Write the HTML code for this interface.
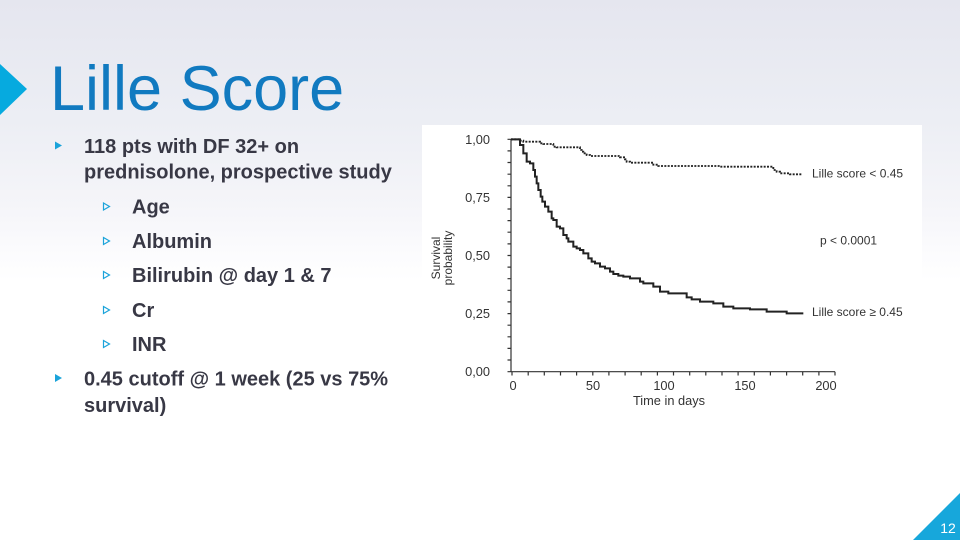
<!DOCTYPE html>
<html><head><meta charset="utf-8"><style>
html,body{margin:0;padding:0;}
body{width:960px;height:540px;overflow:hidden;background:linear-gradient(180deg,#e5e6ef 0%,#eceef4 22%,#f5f5f9 38%,#fbfbfd 46%,#ffffff 52%,#ffffff 100%);}
svg{display:block;}
</style></head><body>
<svg width="960" height="540" viewBox="0 0 960 540" xmlns="http://www.w3.org/2000/svg">
<!-- corner shapes -->
<polygon points="0,64 27,89 0,115" fill="#06aadf"/>
<polygon points="913,540 960,540 960,493" fill="#17a7db"/>
<text x="948" y="533" font-family="Liberation Sans, sans-serif" font-size="14" fill="#ffffff" text-anchor="middle">12</text>

<!-- title -->
<text x="50" y="110" font-family="Liberation Sans, sans-serif" font-size="63" fill="#117ac0">Lille Score</text>

<!-- bullets -->
<g font-family="Liberation Sans, sans-serif" font-size="20" font-weight="bold" fill="#383845">
<polygon points="55,141.5 62,145.5 55,149.5" fill="#1aa3da"/>
<text x="84" y="153">118 pts with DF 32+ on</text>
<text x="84" y="178.5">prednisolone, prospective study</text>
<polygon points="103.5,203 109.5,206.5 103.5,210" fill="none" stroke="#1aa3da" stroke-width="1.2"/>
<text x="132" y="213.5">Age</text>
<polygon points="103.5,237.5 109.5,241 103.5,244.5" fill="none" stroke="#1aa3da" stroke-width="1.2"/>
<text x="132" y="248">Albumin</text>
<polygon points="103.5,271.5 109.5,275 103.5,278.5" fill="none" stroke="#1aa3da" stroke-width="1.2"/>
<text x="132" y="282">Bilirubin @ day 1 &amp; 7</text>
<polygon points="103.5,306.5 109.5,310 103.5,313.5" fill="none" stroke="#1aa3da" stroke-width="1.2"/>
<text x="132" y="317">Cr</text>
<polygon points="103.5,340.5 109.5,344 103.5,347.5" fill="none" stroke="#1aa3da" stroke-width="1.2"/>
<text x="132" y="351">INR</text>
<polygon points="55,374 62,378 55,382" fill="#1aa3da"/>
<text x="84" y="385.5">0.45 cutoff @ 1 week (25 vs 75%</text>
<text x="84" y="412">survival)</text>
</g>

<!-- chart box -->
<rect x="422" y="125" width="500" height="295" fill="#ffffff"/>

<!-- axes -->
<g stroke="#333" stroke-width="1.2" fill="none">
<line x1="511" y1="139.3" x2="511" y2="371.7"/>
<line x1="511" y1="371.7" x2="835" y2="371.7"/>
<path d="M507.5,139.3H511 M507.5,150.9H511 M507.5,162.5H511 M507.5,174.2H511 M507.5,185.8H511 M507.5,197.4H511 M507.5,209H511 M507.5,220.6H511 M507.5,232.2H511 M507.5,243.9H511 M507.5,255.5H511 M507.5,267.1H511 M507.5,278.7H511 M507.5,290.3H511 M507.5,301.9H511 M507.5,313.6H511 M507.5,325.2H511 M507.5,336.8H511 M507.5,348.4H511 M507.5,360H511 M507.5,371.7H511"/>
<path d="M512,371.7V375.5 M528.2,371.7V375.5 M544.3,371.7V375.5 M560.5,371.7V375.5 M576.6,371.7V375.5 M592.8,371.7V375.5 M608.9,371.7V375.5 M625.1,371.7V375.5 M641.2,371.7V375.5 M657.4,371.7V375.5 M673.5,371.7V375.5 M689.7,371.7V375.5 M705.8,371.7V375.5 M722,371.7V375.5 M738.1,371.7V375.5 M754.3,371.7V375.5 M770.4,371.7V375.5 M786.6,371.7V375.5 M802.7,371.7V375.5 M818.9,371.7V375.5 M835,371.7V375.5"/>
</g>

<g font-family="Liberation Sans, sans-serif" fill="#333">
<g font-size="12.8" text-anchor="end">
<text x="490" y="144">1,00</text>
<text x="490" y="202">0,75</text>
<text x="490" y="260">0,50</text>
<text x="490" y="318">0,25</text>
<text x="490" y="376">0,00</text>
</g>
<g font-size="12.8" text-anchor="middle">
<text x="513" y="390">0</text>
<text x="593" y="390">50</text>
<text x="664" y="390">100</text>
<text x="745" y="390">150</text>
<text x="826" y="390">200</text>
<text x="669" y="405">Time in days</text>
</g>
<g font-size="12" text-anchor="middle">
<text transform="translate(440,258) rotate(-90)">Survival</text>
<text transform="translate(452,258) rotate(-90)">probability</text>
</g>
<g font-size="12">
<text x="812" y="177.5">Lille score &lt; 0.45</text>
<text x="820" y="244.5">p &lt; 0.0001</text>
<text x="812" y="316">Lille score ≥ 0.45</text>
</g>
</g>

<!-- curves (zoom coordinates) -->
<g transform="translate(420,120) scale(0.33333)" fill="none" stroke="#222">
<path stroke-width="6" d="M273,58 H300 V75 H310 V100 H320 V125 H330 V130 H340 V150 H345 V170 H350 V190 H355 V210 H362 V230 H367 V245 H375 V260 H385 V275 H395 V295 H400 V300 H410 V320 H420 V325 H430 V345 H440 V355 H445 V365 H460 V380 H470 V385 H480 V390 H490 V400 H505 V415 H515 V425 H525 V430 H540 V440 H555 V445 H570 V455 H580 V462 H595 V467 H610 V470 H630 V475 H660 V485 H670 V490 H700 V500 H720 V515 H745 V520 H800 V532 H815 V538 H840 V545 H880 V550 H910 V560 H940 V565 H990 V568 H1040 V575 H1100 V580 H1150"/>
<path stroke-width="5.5" stroke-dasharray="6 4" d="M273,58 H300 V62 H310 V65 H360 V70 H370 V72 H400 V80 H410 V82 H480 V90 H485 V95 H490 V100 H500 V105 H510 V108 H600 V112 H615 V118 H620 V125 H630 V128 H700 V134 H715 V138 H740 H900 V140 H1060 V150 H1070 V155 H1080 V160 H1110 V163 H1145"/>
</g>
</svg>
</body></html>
